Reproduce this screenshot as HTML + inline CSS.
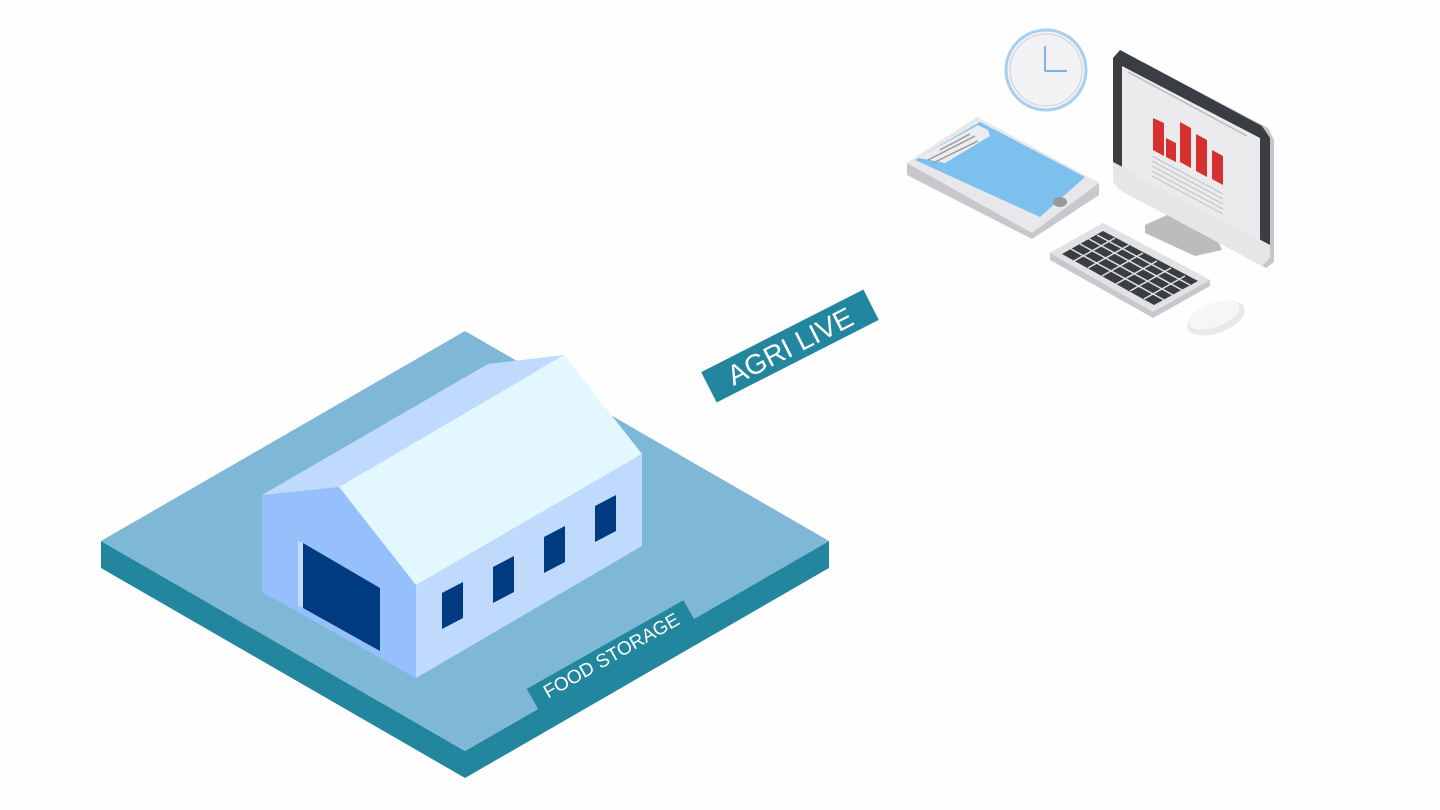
<!DOCTYPE html>
<html><head><meta charset="utf-8"><style>
html,body{margin:0;padding:0;background:#fff;}
svg{display:block;}
text{font-family:"Liberation Sans",sans-serif;fill:#fff;}
</style></head><body>
<svg width="1440" height="810" viewBox="0 0 1440 810" xmlns="http://www.w3.org/2000/svg">
<rect width="1440" height="810" fill="#fefefe"/>
<!-- platform -->
<polygon points="101,541 465,751 465,778 101,568" fill="#23869f"/>
<polygon points="465,751 829,541 829,568 465,778" fill="#23869f"/>
<polygon points="465,331 829,541 465,751 101,541" fill="#7fb8d6"/>
<!-- food storage label -->
<g transform="translate(611,655) rotate(-29.5)">
<rect x="-90" y="-12" width="180" height="25" fill="#23869f"/>
<text x="0" y="7" font-size="19" text-anchor="middle">FOOD STORAGE</text>
</g>
<!-- building -->
<polygon points="262,495 339,487 416,585 416,678 262,592" fill="#96c0fc"/>
<polygon points="298,541 303,543 303,608 298,606" fill="#c0dafe"/>
<polygon points="303,543 380,588 380,651 303,608" fill="#003a80"/>
<polygon points="380,588 416,608 416,678 380,658" fill="#96c0fc"/>
<polygon points="416,585 642,454 642,546 416,678" fill="#bfdafd"/>
<polygon points="262,495 488,364 564,355 339,487" fill="#c0dafe"/>
<polygon points="339,487 564,355 642,454 416,585" fill="#e3f8fe"/>
<polygon points="442,593 463,582 463,618 442,629" fill="#003a80"/>
<polygon points="493,567 514,556 514,592 493,603" fill="#003a80"/>
<polygon points="544,537 565,526 565,562 544,573" fill="#003a80"/>
<polygon points="595,506 616,495 616,531 595,542" fill="#003a80"/>
<!-- agri live -->
<g transform="translate(790,346) rotate(-27)">
<rect x="-91" y="-17" width="182" height="34" fill="#23869f"/>
<text x="0" y="10" font-size="28" text-anchor="middle">AGRI LIVE</text>
</g>
<!-- clock -->
<circle cx="1046" cy="70" r="40" fill="#f2f2f4" stroke="#a8cff2" stroke-width="3"/>
<circle cx="1046" cy="70" r="36" fill="none" stroke="#d0d0d4" stroke-width="1"/>
<line x1="1045" y1="46" x2="1045" y2="71" stroke="#5b9be0" stroke-width="1.5"/>
<line x1="1045" y1="71" x2="1067" y2="71" stroke="#5b9be0" stroke-width="1.5"/>
<!-- tablet -->
<polygon points="907,163 977,117 1099,183 1099,195 1032,239 907,175" fill="#c8c8cc"/>
<polygon points="907,163 977,117 1099,183 1032,233" fill="#e8e8ea"/>
<polygon points="915,160 980,122 1085,177 1040,217" fill="#7cc0ee"/>
<polygon points="918,158 978,125 988,130 990,136 945,163 930,160" fill="#ececee"/>
<line x1="940" y1="150" x2="970" y2="134" stroke="#999" stroke-width="1.5"/>
<line x1="928" y1="160" x2="975" y2="136" stroke="#999" stroke-width="1.5"/>
<line x1="933" y1="163" x2="978" y2="141" stroke="#999" stroke-width="1.5"/>
<ellipse cx="1060" cy="202" rx="7" ry="5" fill="#999"/>
<!-- monitor stand -->
<polygon points="1145,225 1200,200 1222,250 1195,256 1145,233" fill="#bcbcbe"/>
<!-- monitor -->
<polygon points="1113,58 1120,50 1268,128 1274,140 1274,262 1266,268 1120,190 1113,182" fill="#c6c6c8"/>
<polygon points="1113,58 1120,50 1262,126 1270,138 1270,245 1113,162" fill="#3a3d42"/>
<polygon points="1113,162 1270,245 1270,258 1262,266 1120,190 1113,182" fill="#e6e6e8"/>
<polygon points="1122,66 1260,138 1260,240 1122,168" fill="#ebebed"/>
<line x1="1128" y1="72" x2="1247" y2="136" stroke="#bbb" stroke-width="1.5"/>
<polygon points="1153,118 1164,123 1164,156 1153,150" fill="#d63030"/>
<polygon points="1166,138 1176,143 1176,162 1166,157" fill="#d63030"/>
<polygon points="1180,122 1191,128 1191,168 1180,162" fill="#d63030"/>
<polygon points="1196,134 1207,140 1207,177 1196,171" fill="#d63030"/>
<polygon points="1212,150 1223,156 1223,185 1212,179" fill="#d63030"/>
<g stroke="#c4c4c6" stroke-width="1">
<line x1="1152" y1="156" x2="1223" y2="194"/><line x1="1152" y1="161" x2="1223" y2="199"/>
<line x1="1152" y1="166" x2="1223" y2="204"/><line x1="1152" y1="171" x2="1223" y2="209"/>
<line x1="1152" y1="176" x2="1223" y2="214"/>
</g>
<!-- keyboard -->
<polygon points="1050,253 1103,223 1210,280 1210,286 1153,318 1050,260" fill="#c8c8cc"/>
<polygon points="1050,253 1103,223 1210,280 1153,312" fill="#e2e2e4"/>
<polygon points="1062,254 1103,231 1198,281 1154,305" fill="#3a3d42"/>
<g stroke="#e2e2e4" stroke-width="1.5">
<line x1="1071" y1="249" x2="1164" y2="300"/><line x1="1080" y1="244" x2="1173" y2="295"/>
<line x1="1089" y1="239" x2="1182" y2="290"/><line x1="1097" y1="235" x2="1190" y2="285"/>
<line x1="1074" y1="261" x2="1115" y2="238"/><line x1="1088" y1="268" x2="1129" y2="245"/>
<line x1="1102" y1="276" x2="1143" y2="253"/><line x1="1116" y1="284" x2="1157" y2="261"/>
<line x1="1130" y1="291" x2="1171" y2="268"/><line x1="1144" y1="299" x2="1185" y2="276"/>
</g>
<!-- mouse -->
<ellipse cx="1216" cy="318" rx="30" ry="15" transform="rotate(-20 1216 318)" fill="#e8e8ea"/>
<ellipse cx="1214" cy="315" rx="27" ry="12" transform="rotate(-20 1214 315)" fill="#f6f6f7"/>
</svg>
</body></html>
